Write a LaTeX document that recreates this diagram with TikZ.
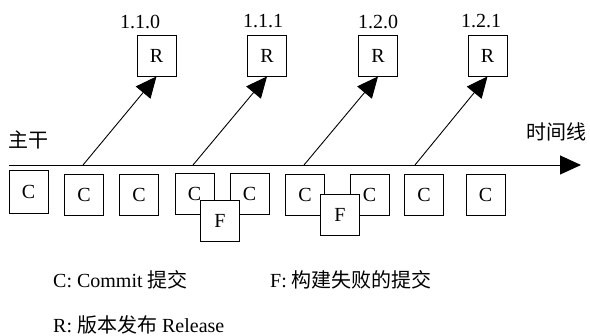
\documentclass[tikz,border=0pt]{standalone}
\usepackage{fontspec}
\setmainfont{Liberation Serif}
\newfontfamily\cjk{Noto Sans CJK SC}
\usetikzlibrary{arrows.meta}
\begin{document}
\begin{tikzpicture}[x=1pt,y=-1pt,
  every node/.style={font=\fontsize{20}{23}\selectfont, inner sep=0pt},
  box/.style={draw, fill=white, line width=0.9pt, minimum width=39pt, minimum height=41pt},
  rel/.style={line width=0.9pt, -{Triangle[length=21pt,width=19pt]}},
  lbl/.style={anchor=base west}]
\useasboundingbox (0,0) rectangle (590,336);
% main line
\coordinate (ms) at (9,165);
\coordinate (me) at (581,165);
\draw[rel] (ms) -- (me);
\node (trunk) at (29,140) {\cjk 主干};
\node (timeline) at (556,132) {\cjk 时间线};
% release boxes
\node[box] (r1) at (156.5,55.5) {R};
\node[box] (r2) at (267,55.5) {R};
\node[box] (r3) at (378,55.5) {R};
\node[box] (r4) at (487.5,55.5) {R};
\node (v1) at (140,21.5) {1.1.0};
\node (v2) at (263,21.5) {1.1.1};
\node (v3) at (378,21.5) {1.2.0};
\node (v4) at (481,21.5) {1.2.1};
\coordinate (b1) at (83,165);
\coordinate (b2) at (193,165);
\coordinate (b3) at (304,165);
\coordinate (b4) at (415,165);
\draw[rel] (b1) -- (r1.south);
\draw[rel] (b2) -- (r2.south);
\draw[rel] (b3) -- (r3.south);
\draw[rel] (b4) -- (r4.south);
% commits
\node[box, minimum height=43pt] (c1) at (28.5,191.5) {C};
\node[box] (c2) at (84,195) {C};
\node[box] (c3) at (139,195) {C};
\node[box] (c4) at (194.5,194) {C};
\node[box] (c5) at (249.5,194) {C};
\node[box] (f1) at (220,220.5) {F};
\node[box] (c6) at (305,194.5) {C};
\node[box] (c7) at (369.5,194.5) {C};
\node[box] (f2) at (340,214.5) {F};
\node[box] (c8) at (424,195) {C};
\node[box] (c9) at (485.5,195) {C};
% legend
\node[lbl] (lc) at (53,288) {C: Commit {\cjk 提交}};
\node[lbl] (lf) at (270,288) {F: {\cjk 构建失败的提交}};
\node[lbl] (lr) at (53,333) {R: {\cjk 版本发布} Release};
\end{tikzpicture}
\end{document}
